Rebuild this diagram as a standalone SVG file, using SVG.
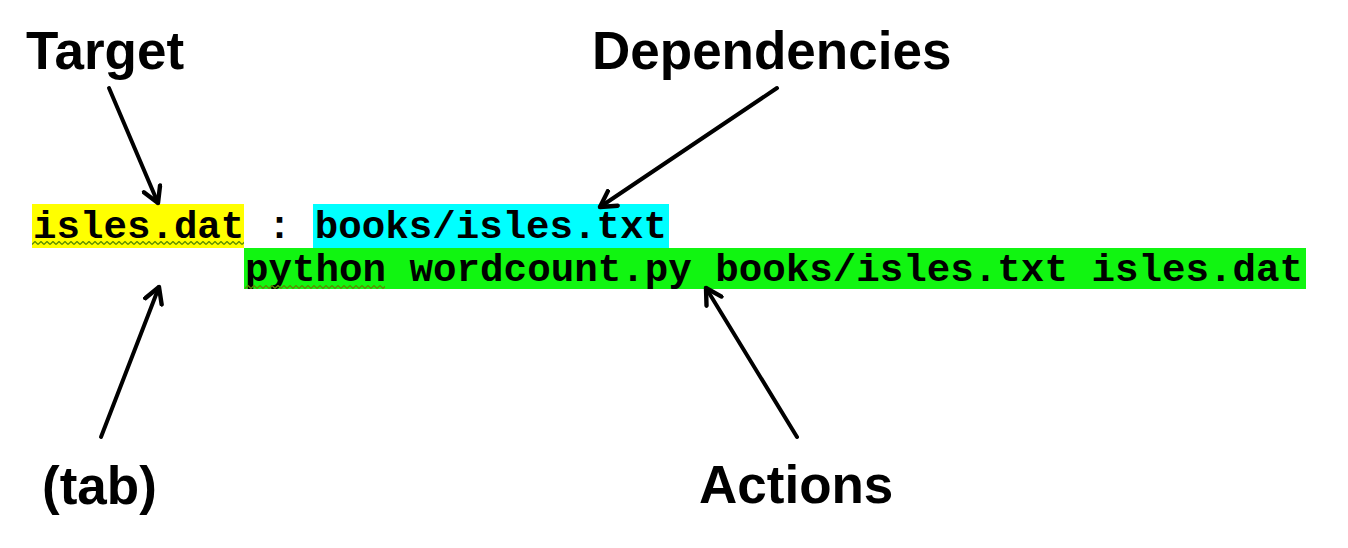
<svg xmlns="http://www.w3.org/2000/svg" width="1348" height="548" viewBox="0 0 1348 548">
<defs>
<style>
.lbl{font-family:"Liberation Sans",Arial,sans-serif;font-weight:bold;font-size:53px;fill:#000}
.code{font-family:"Liberation Mono","Courier New",monospace;font-weight:bold;font-size:39px;fill:#000}
.arr{stroke:#000;stroke-width:4;fill:none;stroke-linecap:round;marker-end:url(#ah)}
</style>
<marker id="ah" viewBox="0 0 10 10" refX="8" refY="5" markerWidth="5.5" markerHeight="5.5" orient="auto" markerUnits="strokeWidth">
<path d="M1,1 L8,5 L1,9" fill="none" stroke="#000" stroke-width="2" stroke-linecap="round" stroke-linejoin="round"/>
</marker>
<pattern id="sq1" x="32" y="241" width="6" height="4" patternUnits="userSpaceOnUse">
<path d="M0,3.5 L3,0.5 L6,3.5" fill="none" stroke="#5a8c00" stroke-width="1.3"/>
</pattern>
<pattern id="sq2" x="245" y="285" width="6" height="4" patternUnits="userSpaceOnUse">
<path d="M0,3.5 L3,0.5 L6,3.5" fill="none" stroke="#5a8c00" stroke-width="1.3"/>
</pattern>
</defs>
<rect width="1348" height="548" fill="#fff"/>
<g id="code">
<rect x="32" y="204" width="212" height="44" fill="#ffff00"/>
<rect x="313" y="204" width="356" height="44" fill="#00ffff"/>
<rect x="244" y="248" width="1062" height="41" fill="#11f511"/>
<text class="code" x="33" y="238" textLength="634" lengthAdjust="spacingAndGlyphs" xml:space="preserve">isles.dat : books/isles.txt</text>
<text class="code" x="245" y="281" textLength="1058" lengthAdjust="spacingAndGlyphs" xml:space="preserve">python wordcount.py books/isles.txt isles.dat</text>
<rect x="32" y="241" width="212" height="4" fill="url(#sq1)"/>
<rect x="245" y="285" width="140" height="4" fill="url(#sq2)"/>
</g>
<g id="target"><text class="lbl" x="26" y="69" font-size="54">Target</text></g>
<g id="dependencies"><text class="lbl" x="592" y="69" font-size="54">Dependencies</text></g>
<g id="tab"><text class="lbl" x="42" y="504">(tab)</text></g>
<g id="actions"><text class="lbl" x="699" y="503">Actions</text></g>
<g id="connectors">
<line class="arr" x1="109" y1="88" x2="158" y2="203"/>
<line class="arr" x1="777" y1="88" x2="600" y2="207"/>
<line class="arr" x1="101" y1="437" x2="159" y2="287"/>
<line class="arr" x1="797" y1="437" x2="706" y2="288"/>
</g>
</svg>
